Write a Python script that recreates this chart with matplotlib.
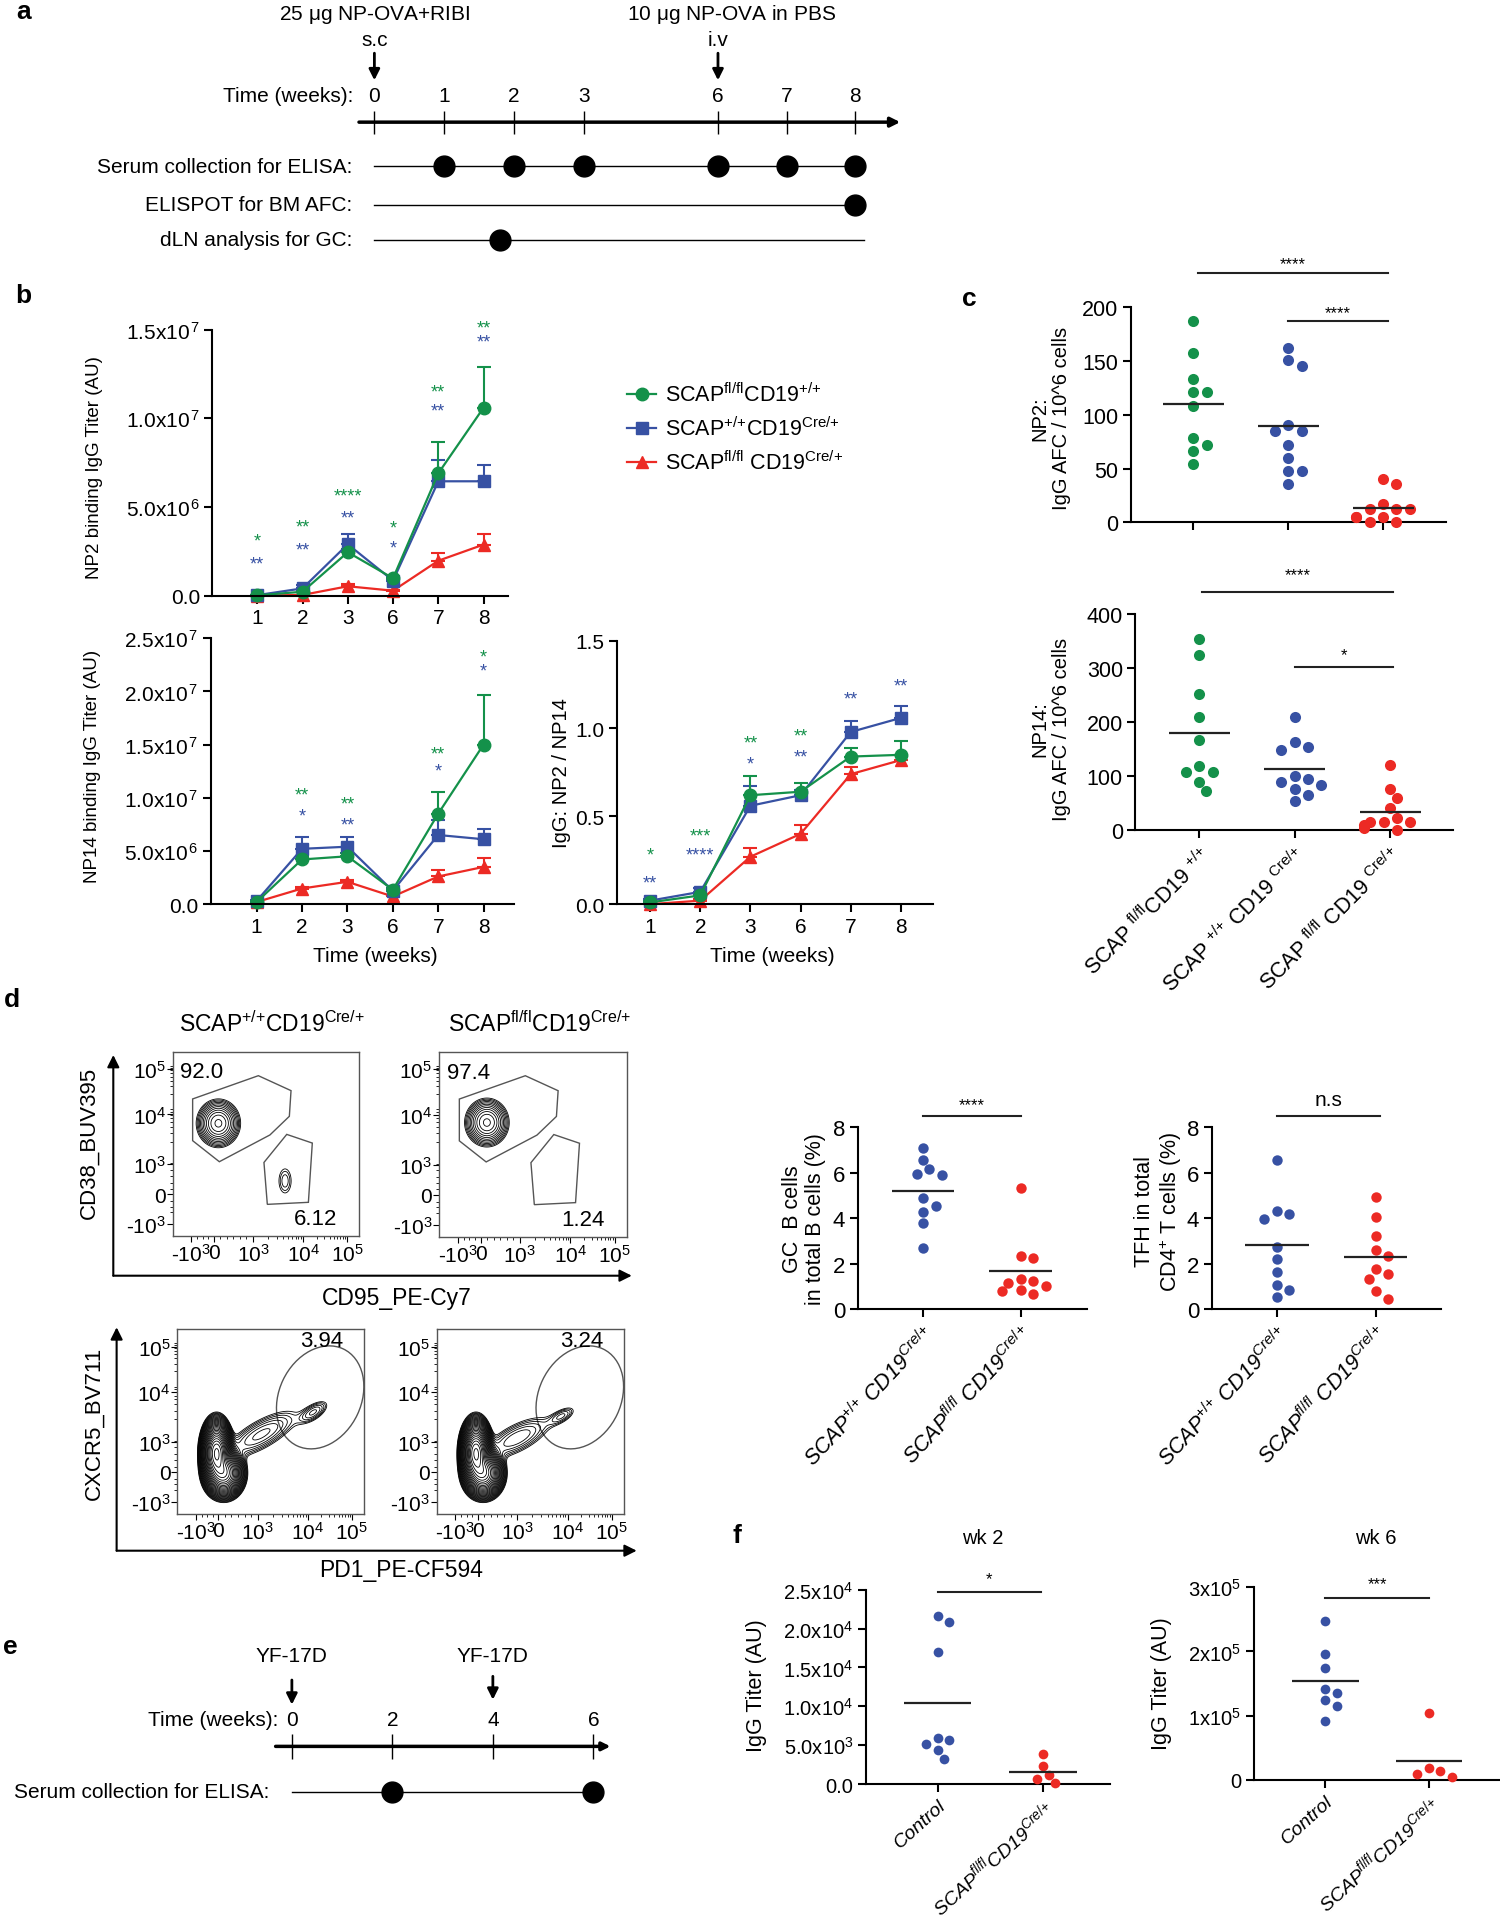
import numpy as np
import matplotlib.pyplot as plt
from matplotlib.patches import Ellipse, Polygon

plt.rcParams['font.family'] = ['Liberation Sans', 'DejaVu Sans']
plt.rcParams['mathtext.fontset'] = 'custom'
plt.rcParams['mathtext.rm'] = 'Liberation Sans'
plt.rcParams['mathtext.it'] = 'Liberation Sans:italic'
plt.rcParams['mathtext.bf'] = 'Liberation Sans:bold'
plt.rcParams['mathtext.default'] = 'regular'

GREEN = '#14914a'
BLUE = '#3751a3'
RED = '#ec2a24'

# ---------------- data ----------------
# a: immunisation schedule (weeks)
a_weeks = [0, 1, 2, 3, 6, 7, 8]
a_rows = ['Serum collection for ELISA:', 'ELISPOT for BM AFC:', 'dLN analysis for GC:']
a_serum = [1, 2, 3, 6, 7, 8]
a_elispot = [8]
a_dln = [1.8]

# b: ELISA time courses (mean, upper SEM)
b_weeks = ['1', '2', '3', '6', '7', '8']
np2_wt = [0.02e6, 0.22e6, 2.45e6, 0.98e6, 6.9e6, 10.6e6]
np2_wt_err = [0.02e6, 0.1e6, 0.2e6, 0.1e6, 1.75e6, 2.3e6]
np2_ctrl = [0.03e6, 0.41e6, 2.9e6, 0.85e6, 6.45e6, 6.45e6]
np2_ctrl_err = [0.02e6, 0.2e6, 0.55e6, 0.1e6, 1.2e6, 0.9e6]
np2_ko = [0.0, 0.04e6, 0.53e6, 0.28e6, 1.97e6, 2.88e6]
np2_ko_err = [0.0, 0.02e6, 0.1e6, 0.05e6, 0.45e6, 0.6e6]

np14_wt = [0.2e6, 4.2e6, 4.5e6, 1.35e6, 8.5e6, 15.0e6]
np14_wt_err = [0.05e6, 0.3e6, 0.3e6, 0.2e6, 2.0e6, 4.7e6]
np14_ctrl = [0.3e6, 5.2e6, 5.4e6, 1.25e6, 6.5e6, 6.1e6]
np14_ctrl_err = [0.05e6, 1.15e6, 0.87e6, 0.2e6, 1.4e6, 0.95e6]
np14_ko = [0.2e6, 1.47e6, 2.1e6, 0.72e6, 2.6e6, 3.5e6]
np14_ko_err = [0.03e6, 0.15e6, 0.2e6, 0.1e6, 0.6e6, 0.8e6]

ratio_wt = [0.01, 0.05, 0.62, 0.64, 0.84, 0.85]
ratio_wt_err = [0.01, 0.01, 0.11, 0.05, 0.05, 0.08]
ratio_ctrl = [0.02, 0.07, 0.56, 0.62, 0.98, 1.06]
ratio_ctrl_err = [0.01, 0.02, 0.11, 0.03, 0.06, 0.07]
ratio_ko = [0.0, 0.02, 0.27, 0.40, 0.74, 0.82]
ratio_ko_err = [0.0, 0.01, 0.05, 0.05, 0.04, 0.03]

np2_stars_g = ['*', '**', '****', '*', '**', '**']
np2_stars_g_y = [3.1e6, 3.85e6, 5.6e6, 3.8e6, 11.5e6, 15.1e6]
np2_stars_b = ['**', '**', '**', '*', '**', '**']
np2_stars_b_y = [1.8e6, 2.6e6, 4.4e6, 2.67e6, 10.4e6, 14.3e6]
np14_stars_g = ['', '**', '**', '', '**', '*']
np14_stars_g_y = [0, 10.3e6, 9.4e6, 0, 14.1e6, 23.2e6]
np14_stars_b = ['', '*', '**', '', '*', '*']
np14_stars_b_y = [0, 8.3e6, 7.4e6, 0, 12.5e6, 21.9e6]
ratio_stars_g = ['*', '***', '**', '**', '', '']
ratio_stars_g_y = [0.28, 0.39, 0.92, 0.96, 0, 0]
ratio_stars_b = ['**', '****', '*', '**', '**', '**']
ratio_stars_b_y = [0.12, 0.28, 0.80, 0.84, 1.17, 1.24]

legend_labels = ['SCAP$^{fl/fl}$CD19$^{{+}/{+}}$', 'SCAP$^{{+}/{+}}$CD19$^{Cre/{+}}$',
                 'SCAP$^{fl/fl}$ CD19$^{Cre/{+}}$']

# c: bone marrow AFC
c_groups = ['SCAP $^{fl/fl}$CD19 $^{{+}/{+}}$', 'SCAP $^{{+}/{+}}$ CD19 $^{Cre/{+}}$',
            'SCAP $^{fl/fl}$ CD19 $^{Cre/{+}}$']
np2_afc_wt = [187, 157, 133, 121, 121, 108, 78, 72, 66, 54]
np2_afc_ctrl = [162, 151, 145, 90, 85, 85, 72, 60, 48, 48, 36]
np2_afc_ko = [40, 36, 17, 12, 12, 12, 5, 5, 5, 0.5, 0.5]
np14_afc_wt = [355, 324, 252, 210, 168, 119, 107, 107, 89, 72]
np14_afc_ctrl = [210, 163, 155, 149, 101, 95, 89, 83, 77, 66, 55]
np14_afc_ko = [120, 77, 59, 41, 22, 16, 16, 16, 10, 4, 0.5]

# d: flow cytometry
d_titles = ['SCAP$^{{+}/{+}}$CD19$^{Cre/{+}}$', 'SCAP$^{fl/fl}$CD19$^{Cre/{+}}$']
gc_pct_labels = [('92.0', '6.12'), ('97.4', '1.24')]
tfh_pct_labels = ['3.94', '3.24']
flow_y_labels = ['10$^5$', '10$^4$', '10$^3$', '0', '-10$^3$']
flow_x_labels = ['-10$^3$', '0', '10$^3$', '10$^4$', '10$^5$']
# density components: centre x, centre y, sd x, sd y, angle, weight (axis fraction)
gc_clusters = [
    [(0.245, 0.612, 0.045, 0.05, 0, 1.0), (0.602, 0.30, 0.025, 0.05, 0, 0.07)],
    [(0.254, 0.617, 0.045, 0.05, 0, 1.0)],
]
tfh_clusters = [
    [(0.21, 0.33, 0.03, 0.065, 0, 1.0), (0.25, 0.22, 0.04, 0.05, 0, 0.5),
     (0.45, 0.43, 0.13, 0.045, 30, 0.012), (0.73, 0.55, 0.055, 0.025, 35, 0.009)],
    [(0.21, 0.33, 0.03, 0.065, 0, 1.0), (0.25, 0.22, 0.04, 0.05, 0, 0.5),
     (0.43, 0.41, 0.12, 0.045, 28, 0.011), (0.67, 0.53, 0.05, 0.022, 30, 0.007)],
]
gate_cd38_hi = [(0.107, 0.744), (0.459, 0.870), (0.634, 0.789), (0.625, 0.650),
                (0.521, 0.549), (0.25, 0.404), (0.107, 0.518)]
gate_gc = [(0.489, 0.40), (0.611, 0.552), (0.748, 0.505), (0.727, 0.184), (0.507, 0.173)]
gate_tfh = (0.765, 0.63, 0.44, 0.58, -25)

gc_ctrl = [7.1, 6.56, 6.15, 5.96, 5.9, 4.87, 4.52, 4.29, 3.79, 2.69]
gc_ko = [5.34, 2.35, 2.26, 1.32, 1.25, 1.17, 1.03, 0.84, 0.81, 0.66]
tfh_ctrl = [6.55, 4.3, 4.18, 3.96, 2.72, 2.23, 1.62, 1.08, 0.86, 0.54]
tfh_ko = [4.93, 4.07, 3.23, 2.59, 2.33, 1.77, 1.55, 1.35, 0.81, 0.47]
d_groups = ['SCAP$^{\\mathit{{+}/{+}}}$ CD19$^{\\mathit{Cre/{+}}}$',
            'SCAP$^{\\mathit{fl/fl}}$ CD19$^{\\mathit{Cre/{+}}}$']

# e: YF-17D schedule
e_weeks = [0, 2, 4, 6]
e_doses = [0, 4]
e_serum = [2, 6]

# f: YF-17D titres
f_groups = ['Control', 'SCAP$^{\\mathit{fl/fl}}$CD19$^{\\mathit{Cre/{+}}}$']
wk2_ctrl = [21660, 20900, 17000, 5660, 5900, 5100, 4370, 3220]
wk2_ko = [3820, 2300, 1200, 640, 100]
wk6_ctrl = [2.48e5, 1.96e5, 1.74e5, 1.42e5, 1.35e5, 1.24e5, 1.15e5, 0.92e5]
wk6_ko = [1.04e5, 0.18e5, 0.13e5, 0.09e5, 0.04e5]

# ---------------- layout helpers ----------------
W, H = 1218.0, 1568.0
fig = plt.figure(figsize=(15, 19.31), dpi=100)
bg = fig.add_axes([0, 0, 1, 1])
bg.set_xlim(0, W)
bg.set_ylim(H, 0)
bg.axis('off')


def panel(x0, y0, x1, y1):
    return fig.add_axes([x0 / W, 1 - y1 / H, (x1 - x0) / W, (y1 - y0) / H])


def style_axes(ax, lw=1.5):
    for s in ['top', 'right']:
        ax.spines[s].set_visible(False)
    for s in ['left', 'bottom']:
        ax.spines[s].set_linewidth(lw)
    ax.tick_params(direction='out', length=6, width=lw, pad=3)


def arrow(x0, y0, x1, y1, lw=2, ms=16):
    bg.annotate('', xy=(x1, y1), xytext=(x0, y0),
                arrowprops=dict(arrowstyle='-|>', lw=lw, color='k', mutation_scale=ms,
                                shrinkA=0, shrinkB=0))


for lab, (x, y) in zip('abcdef', [(19, 10), (19, 240), (787, 243), (10, 812), (8, 1337), (598, 1247)]):
    bg.text(x, y, lab, fontsize=19, fontweight='bold', ha='center', va='center')

# ---------------- a ----------------
def tx_a(w):
    return np.interp(w, [0, 3, 6, 8], [304, 474, 583, 694.5])


FS_A = 15
bg.text(304, 12, '25 $\\mu$g NP-OVA+RIBI', fontsize=FS_A, ha='center', va='center')
bg.text(304, 32.5, 's.c', fontsize=FS_A, ha='center', va='center')
bg.text(594, 12, '10 $\\mu$g NP-OVA in PBS', fontsize=FS_A, ha='center', va='center')
bg.text(583, 32.5, 'i.v', fontsize=FS_A, ha='center', va='center')
arrow(tx_a(0), 44, tx_a(0), 66)
arrow(tx_a(6), 44, tx_a(6), 66)
bg.text(287, 78.5, 'Time (weeks):', fontsize=FS_A, ha='right', va='center')
for w in a_weeks:
    bg.text(tx_a(w), 78.5, str(w), fontsize=FS_A, ha='center', va='center')
arrow(291.5, 100, 731, 100, lw=2.5, ms=14)
bg.vlines(tx_a(np.array(a_weeks)), 90.7, 109.6, color='k', lw=1)
for y, row, pts, end in zip([136, 167, 195.4], a_rows, [a_serum, a_elispot, a_dln], [694.5, 701.5, 701.5]):
    bg.text(286, y, row, fontsize=FS_A, ha='right', va='center')
    bg.plot([tx_a(0), end], [y, y], color='k', lw=1)
    bg.plot(tx_a(np.array(pts)), [y] * len(pts), 'o', color='k', ms=15)

# ---------------- b ----------------
def time_course(ax, series, stars, ylim, yticks, ylabels):
    x = np.arange(len(b_weeks))
    for (m, e, c, mk) in series:
        ax.errorbar(x, m, yerr=[np.zeros(len(e)), e], color=c, marker=mk, ms=9, lw=1.6,
                    elinewidth=1.5, capsize=5, capthick=1.5, clip_on=False)
    for labs, ys, c in stars:
        for xi, (s, y) in enumerate(zip(labs, ys)):
            if s:
                ax.text(xi, y, s, color=c, fontsize=13, ha='center', va='center')
    ax.set_ylim(*ylim)
    ax.set_yticks(yticks)
    ax.set_yticklabels(ylabels, fontsize=15)
    ax.set_xticks(x)
    ax.set_xticklabels(b_weeks, fontsize=15)
    style_axes(ax)


ax = panel(172.5, 268.5, 412.5, 484.5)
ax.set_xlim(-0.99, 5.54)
time_course(ax, [(np2_ko, np2_ko_err, RED, '^'), (np2_ctrl, np2_ctrl_err, BLUE, 's'),
                 (np2_wt, np2_wt_err, GREEN, 'o')],
            [(np2_stars_g, np2_stars_g_y, GREEN), (np2_stars_b, np2_stars_b_y, BLUE)],
            (0, 1.5e7), [0, 5e6, 1e7, 1.5e7],
            ['0.0', '5.0x10$^{\\,6}$', '1.0x10$^{\\,7}$', '1.5x10$^{\\,7}$'])
bg.text(77, 380, 'NP2 binding IgG Titer (AU)', fontsize=13.5, rotation=90, ha='center', va='center')

ax = panel(171.5, 519, 417, 735)
ax.set_xlim(-1.0, 5.66)
time_course(ax, [(np14_ko, np14_ko_err, RED, '^'), (np14_ctrl, np14_ctrl_err, BLUE, 's'),
                 (np14_wt, np14_wt_err, GREEN, 'o')],
            [(np14_stars_g, np14_stars_g_y, GREEN), (np14_stars_b, np14_stars_b_y, BLUE)],
            (0, 2.5e7), [0, 5e6, 1e7, 1.5e7, 2e7, 2.5e7],
            ['0.0', '5.0x10$^{\\,6}$', '1.0x10$^{\\,7}$', '1.5x10$^{\\,7}$', '2.0x10$^{\\,7}$',
             '2.5x10$^{\\,7}$'])
bg.text(75, 622, 'NP14 binding IgG Titer (AU)', fontsize=13.5, rotation=90, ha='center', va='center')
bg.text(305, 777, 'Time (weeks)', fontsize=15, ha='center', va='center')

ax = panel(501, 521, 758, 735)
ax.set_xlim(-0.66, 5.65)
time_course(ax, [(ratio_ko, ratio_ko_err, RED, '^'), (ratio_ctrl, ratio_ctrl_err, BLUE, 's'),
                 (ratio_wt, ratio_wt_err, GREEN, 'o')],
            [(ratio_stars_g, ratio_stars_g_y, GREEN), (ratio_stars_b, ratio_stars_b_y, BLUE)],
            (0, 1.5), [0, 0.5, 1.0, 1.5], ['0.0', '0.5', '1.0', '1.5'])
bg.text(456, 628, 'IgG: NP2 / NP14', fontsize=14.5, rotation=90, ha='center', va='center')
bg.text(627, 777, 'Time (weeks)', fontsize=15, ha='center', va='center')

for y, lab, c, mk in zip([321, 348.5, 376], legend_labels, [GREEN, BLUE, RED], ['o', 's', '^']):
    bg.plot([509, 533], [y, y], color=c, lw=1.6)
    bg.plot([521], [y], marker=mk, color=c, ms=9)
    bg.text(540, y, lab, fontsize=15.5, ha='left', va='center')

# ---------------- dot plot helpers ----------------
DOT_MS = 8


def swarm_x(ax, cat, vals, ms):
    # beeswarm: shift dots sideways until they no longer overlap
    diam = ms / 72 * fig.dpi
    pts = ax.transData.transform(np.column_stack([np.full(len(vals), cat), vals]))
    order = np.argsort(-np.asarray(vals))
    placed = []
    xs = np.zeros(len(vals))
    for i in order:
        px, py = pts[i]
        for k in [0, 1, -1, 2, -2, 3, -3, 4, -4]:
            cx = px + k * diam * 0.6
            if all((cx - qx) ** 2 + (py - qy) ** 2 >= (diam * 0.98) ** 2 for qx, qy in placed):
                break
        placed.append((cx, py))
        xs[i] = cx
    return ax.transData.inverted().transform(np.column_stack([xs, pts[:, 1]]))[:, 0]


def dot_plot(ax, groups, colors, xlim, ylim, yticks, ylabels, ms=DOT_MS, tick_fs=15.5, half=0.32):
    ax.set_xlim(*xlim)
    ax.set_ylim(*ylim)
    for i, (vals, c) in enumerate(zip(groups, colors)):
        xs = swarm_x(ax, i, vals, ms)
        ax.plot(xs, vals, 'o', color=c, ms=ms, mec='none', clip_on=False, zorder=3)
        ax.hlines(np.mean(vals), i - half, i + half, color='#222222', lw=1.6, zorder=4)
    ax.set_yticks(yticks)
    ax.set_yticklabels(ylabels, fontsize=tick_fs)
    ax.set_xticks(range(len(groups)))
    style_axes(ax)


def sig_bar(ax, x0, x1, y, ty, text, fs=12):
    ax.plot([x0, x1], [y, y], color='#222222', lw=1.5, clip_on=False)
    ax.text((x0 + x1) / 2, ty, text, fontsize=fs, ha='center', va='center', clip_on=False)

# ---------------- c ----------------
ax = panel(918, 250, 1174, 425)
dot_plot(ax, [np2_afc_wt, np2_afc_ctrl, np2_afc_ko], [GREEN, BLUE, RED], (-0.66, 2.66), (0, 200),
         [0, 50, 100, 150, 200], ['0', '50', '100', '150', '200'])
ax.set_xticklabels([])
sig_bar(ax, 0.05, 2.05, 231, 240, '****')
sig_bar(ax, 1.0, 2.05, 187, 195, '****')
bg.text(853, 340, 'NP2:\nIgG AFC / 10^6 cells', fontsize=14.5, rotation=90, ha='center', va='center',
        multialignment='center', linespacing=1.2)

ax = panel(922, 499.6, 1180, 675)
dot_plot(ax, [np14_afc_wt, np14_afc_ctrl, np14_afc_ko], [GREEN, BLUE, RED], (-0.67, 2.66), (0, 400),
         [0, 100, 200, 300, 400], ['0', '100', '200', '300', '400'])
ax.set_xticklabels(c_groups, rotation=45, ha='right', va='top', rotation_mode='anchor', fontsize=15.5)
sig_bar(ax, 0.03, 2.03, 442, 474, '****')
sig_bar(ax, 1.0, 2.03, 303, 326, '*')
bg.text(853, 592, 'NP14:\nIgG AFC / 10^6 cells', fontsize=14.5, rotation=90, ha='center', va='center',
        multialignment='center', linespacing=1.2)

# ---------------- d: flow plots ----------------
def density(comps, X, Y):
    Z = np.zeros_like(X)
    for cx, cy, sx, sy, ang, w in comps:
        t = np.deg2rad(ang)
        dx, dy = X - cx, Y - cy
        u = dx * np.cos(t) + dy * np.sin(t)
        v = -dx * np.sin(t) + dy * np.cos(t)
        Z += w * np.exp(-0.5 * ((u / sx) ** 2 + (v / sy) ** 2))
    return Z


flow_y_pos = [0.905, 0.66, 0.39, 0.227, 0.065]
flow_x_pos = [0.10, 0.22, 0.43, 0.70, 0.935]


def flow_panel(box, comps, lev_lo, nlev):
    ax = panel(*box)
    ax.set_xlim(0, 1)
    ax.set_ylim(0, 1)
    g = np.linspace(0, 1, 300)
    X, Y = np.meshgrid(g, g)
    Z = density(comps, X, Y)
    ax.contour(X, Y, Z, levels=Z.max() * np.geomspace(lev_lo, 0.92, nlev), colors='k', linewidths=0.6)
    for s in ax.spines.values():
        s.set_color('#555555')
        s.set_linewidth(1)
    ax.set_yticks(flow_y_pos)
    ax.set_yticklabels(flow_y_labels, fontsize=15)
    ax.set_xticks(flow_x_pos)
    ax.set_xticklabels(flow_x_labels, fontsize=15)
    minor = []
    for lo, hi in [(0.43, 0.70), (0.70, 0.935)]:
        minor += list(lo + (hi - lo) * np.log10(np.arange(2, 10)))
    minor += list(np.linspace(0.22, 0.43, 7)[1:-1]) + list(np.linspace(0.10, 0.22, 5)[1:-1])
    ax.set_xticks(minor, minor=True)
    ax.set_yticks(minor, minor=True)
    ax.tick_params(which='major', length=4, width=0.8, pad=1)
    ax.tick_params(which='minor', length=2, width=0.6)
    return ax


for i, box in enumerate([(140.2, 854.8, 291.8, 1004.7), (356.7, 854.8, 508.9, 1005)]):
    ax = flow_panel(box, gc_clusters[i], 0.03, 12)
    ax.add_patch(Polygon(gate_cd38_hi, closed=True, fill=False, ec='#555555', lw=1))
    ax.add_patch(Polygon(gate_gc, closed=True, fill=False, ec='#555555', lw=1))
    ax.text(0.04, 0.89, gc_pct_labels[i][0], fontsize=16, ha='left', va='center')
    ax.text(0.88, 0.094, gc_pct_labels[i][1], fontsize=16, ha='right', va='center')
    bg.text((box[0] + box[2]) / 2 + 5, 831.8, d_titles[i], fontsize=16.5, ha='center', va='center')

for i, box in enumerate([(144, 1080, 295.6, 1230), (354.6, 1080, 506.5, 1230)]):
    ax = flow_panel(box, tfh_clusters[i], 0.003, 28)
    cx, cy, w, h, ang = gate_tfh
    ax.add_patch(Ellipse((cx, cy), w, h, angle=ang, fill=False, ec='#555555', lw=1, clip_on=False))
    ax.text(0.773, 0.937, tfh_pct_labels[i], fontsize=16, ha='center', va='center')

arrow(92, 1036.7, 92, 857.5, lw=1.5, ms=18)
arrow(92, 1036.7, 513, 1036.7, lw=1.5, ms=18)
arrow(94.7, 1260, 94.7, 1078.6, lw=1.5, ms=18)
arrow(94.7, 1260, 517, 1260, lw=1.5, ms=18)
bg.text(72, 928, 'CD38_BUV395', fontsize=16, rotation=90, ha='center', va='center')
bg.text(322, 1054, 'CD95_PE-Cy7', fontsize=16.5, ha='center', va='center')
bg.text(76, 1156, 'CXCR5_BV711', fontsize=16, rotation=90, ha='center', va='center')
bg.text(326, 1275, 'PD1_PE-CF594', fontsize=16.5, ha='center', va='center')

# ---------------- d: GC B / TFH dot plots ----------------
ax = panel(696.5, 916, 882.7, 1064)
dot_plot(ax, [gc_ctrl, gc_ko], [BLUE, RED], (-0.67, 1.68), (0, 8), [0, 2, 4, 6, 8],
         ['0', '2', '4', '6', '8'], ms=7.5, tick_fs=16)
ax.set_xticklabels(d_groups, rotation=47, ha='right', va='top', rotation_mode='anchor',
                   fontsize=15.5, style='italic')
sig_bar(ax, 0.0, 1.0, 8.49, 8.97, '****')
bg.text(653, 990, 'GC  B cells\nin total B cells (%)', fontsize=15.5, rotation=90, ha='center',
        va='center', multialignment='center', linespacing=1.15)

ax = panel(984, 916, 1170, 1064)
dot_plot(ax, [tfh_ctrl, tfh_ko], [BLUE, RED], (-0.66, 1.66), (0, 8), [0, 2, 4, 6, 8],
         ['0', '2', '4', '6', '8'], ms=7.5, tick_fs=16)
ax.set_xticklabels(d_groups, rotation=47, ha='right', va='top', rotation_mode='anchor',
                   fontsize=15.5, style='italic')
sig_bar(ax, 0.0, 1.04, 8.49, 9.2, 'n.s', fs=15)
bg.text(941, 984, 'TFH in total\nCD4$^{+}$ T cells (%)', fontsize=15.5, rotation=90, ha='center',
        va='center', multialignment='center', linespacing=1.15)

# ---------------- e ----------------
def tx_e(w):
    return np.interp(w, [0, 6], [237, 481.8])


for w in e_doses:
    bg.text(tx_e(w), 1344.7, 'YF-17D', fontsize=FS_A, ha='center', va='center')
    arrow(tx_e(w), 1362 if w else 1365, tx_e(w), 1381 if w else 1385)
bg.text(226, 1396.7, 'Time (weeks):', fontsize=FS_A, ha='right', va='center')
for w in e_weeks:
    bg.text(tx_e(w), 1396.7, str(w), fontsize=FS_A, ha='center', va='center')
arrow(223.8, 1418.9, 495.7, 1418.9, lw=2.5, ms=12)
bg.vlines(tx_e(np.array(e_weeks)), 1409, 1429, color='k', lw=1)
bg.text(219, 1455.6, 'Serum collection for ELISA:', fontsize=FS_A, ha='right', va='center')
bg.plot([tx_e(0), tx_e(6)], [1455.6, 1455.6], color='k', lw=1)
bg.plot(tx_e(np.array(e_serum)), [1455.6] * len(e_serum), 'o', color='k', ms=15)

# ---------------- f ----------------
ax = panel(703.2, 1291.7, 901.3, 1449.5)
dot_plot(ax, [wk2_ctrl, wk2_ko], [BLUE, RED], (-0.68, 1.635), (0, 2.5e4),
         [0, 5e3, 1e4, 1.5e4, 2e4, 2.5e4],
         ['0.0', '5.0x10$^3$', '1.0x10$^4$', '1.5x10$^4$', '2.0x10$^4$', '2.5x10$^4$'],
         ms=7, tick_fs=14.5)
ax.set_xticklabels(f_groups, rotation=42, ha='right', va='top', rotation_mode='anchor',
                   fontsize=14, style='italic')
sig_bar(ax, 0.0, 0.98, 2.47e4, 2.64e4, '*')
bg.text(614, 1369, 'IgG Titer (AU)', fontsize=15.5, rotation=90, ha='center', va='center')
bg.text(798, 1249, 'wk 2', fontsize=14.5, ha='center', va='center')

ax = panel(1018, 1289.7, 1218, 1446)
dot_plot(ax, [wk6_ctrl, wk6_ko], [BLUE, RED], (-0.695, 1.69), (0, 3e5),
         [0, 1e5, 2e5, 3e5], ['0', '1x10$^5$', '2x10$^5$', '3x10$^5$'], ms=7, tick_fs=14.5)
ax.set_xticklabels(f_groups, rotation=42, ha='right', va='top', rotation_mode='anchor',
                   fontsize=14, style='italic')
sig_bar(ax, 0.0, 1.0, 2.83e5, 3.05e5, '***')
bg.text(943, 1367.5, 'IgG Titer (AU)', fontsize=15.5, rotation=90, ha='center', va='center')
bg.text(1117, 1249, 'wk 6', fontsize=14.5, ha='center', va='center')

fig.savefig('out.png', dpi=100)
